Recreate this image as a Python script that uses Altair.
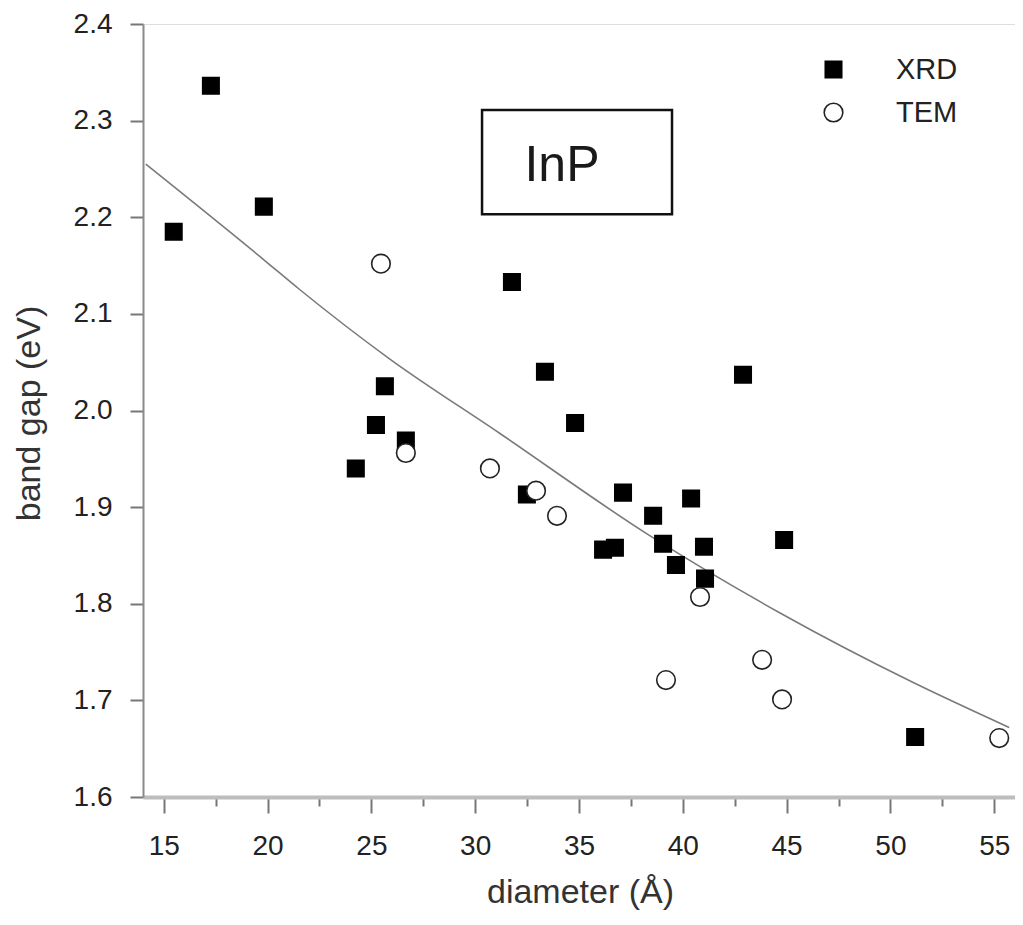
import altair as alt
import pandas as pd

# ---- data ----
series_names = ["XRD", "TEM"]

xrd_diameter = [17.27, 15.48, 19.82, 31.77, 33.36, 25.65, 25.22, 26.66, 24.25, 34.81,
                42.90, 37.12, 32.49, 38.57, 40.40, 36.16, 36.73, 39.05, 39.67, 41.02,
                41.07, 44.88, 51.19]
xrd_gap = [2.336, 2.185, 2.211, 2.133, 2.040, 2.025, 1.985, 1.969, 1.940, 1.987,
           2.037, 1.915, 1.913, 1.891, 1.909, 1.856, 1.858, 1.862, 1.840, 1.859,
           1.826, 1.866, 1.662]

tem_diameter = [25.46, 26.66, 30.71, 32.93, 33.94, 40.83, 39.19, 43.82, 44.78, 55.24]
tem_gap = [2.152, 1.956, 1.940, 1.917, 1.891, 1.807, 1.721, 1.742, 1.701, 1.661]

fit_diameter = [14.13, 19.82, 21.5, 25.84, 31.14, 38.37, 44.64, 51.05, 55.72]
fit_gap = [2.255, 2.156, 2.126, 2.054, 1.977, 1.871, 1.791, 1.719, 1.672]

x_ticks = [15, 20, 25, 30, 35, 40, 45, 50, 55]
x_minor_ticks = [17.5, 22.5, 27.5, 32.5, 37.5, 42.5, 47.5, 52.5]
y_ticks = [1.6, 1.7, 1.8, 1.9, 2.0, 2.1, 2.2, 2.3, 2.4]

label_text = ["InP"]
label_box_x = [30.33, 39.48]
label_box_y = [2.203, 2.311]
label_pos_x = [34.18]
label_pos_y = [2.253]

# ---- tables ----
points = pd.DataFrame({
    "diameter": xrd_diameter + tem_diameter,
    "gap": xrd_gap + tem_gap,
    "method": ["XRD"] * len(xrd_diameter) + ["TEM"] * len(tem_diameter),
})
fit = pd.DataFrame({"diameter": fit_diameter, "gap": fit_gap})
box = pd.DataFrame({"x1": [label_box_x[0]], "x2": [label_box_x[1]],
                    "y1": [label_box_y[0]], "y2": [label_box_y[1]]})
txt = pd.DataFrame({"x": label_pos_x, "y": label_pos_y, "t": label_text})

FONT = "Liberation Sans"
xscale = alt.Scale(domain=[14, 56], nice=False, zero=False)
yscale = alt.Scale(domain=[1.6, 2.4], nice=False, zero=False)

x_axis = alt.Axis(orient="bottom", values=x_ticks, title="diameter (Å)", grid=False,
                  tickSize=16, tickWidth=2, tickColor="#777777",
                  domainColor="#bdbdbd", domainWidth=4,
                  labelFontSize=28, labelFont=FONT, labelColor="#222222",
                  labelPadding=19, labelFlush=False, labelOverlap=False,
                  titleFontSize=34, titleFont=FONT, titleColor="#333333",
                  titleFontWeight="normal", titleX=437, titleY=105,
                  titleBaseline="alphabetic", titleAlign="center")
y_axis = alt.Axis(orient="left", values=y_ticks, format=".1f", title="band gap (eV)", grid=False,
                  tickSize=13, tickWidth=2, tickColor="#777777",
                  domainColor="#8a8a8a", domainWidth=2,
                  labelFontSize=28, labelFont=FONT, labelColor="#222222",
                  labelPadding=18, labelFlush=False, labelOverlap=False,
                  titleFontSize=34, titleFont=FONT, titleColor="#333333",
                  titleFontWeight="normal", titleX=-114, titleY=389,
                  titleAngle=270, titleAlign="center", titleBaseline="middle")
x_minor_axis = alt.Axis(orient="bottom", values=x_minor_ticks, labels=False, title=None, grid=False,
                        tickSize=9, tickWidth=2, tickColor="#777777", domain=False)

leg = alt.Legend(title=None, orient="none", legendX=676, legendY=31,
                 labelFontSize=29, labelFont=FONT, labelColor="#222222",
                 labelOffset=48, rowPadding=13, symbolStrokeWidth=1.6, padding=0)

line = alt.Chart(fit).mark_line(color="#7a7a7a", strokeWidth=1.6, interpolate="monotone").encode(
    x=alt.X("diameter:Q", scale=xscale, axis=x_minor_axis),
    y=alt.Y("gap:Q", scale=yscale, axis=None),
)

pts = alt.Chart(points).mark_point(filled=True, opacity=1, strokeWidth=1.6).encode(
    x=alt.X("diameter:Q", scale=xscale, axis=x_axis),
    y=alt.Y("gap:Q", scale=yscale, axis=y_axis),
    shape=alt.Shape("method:N", scale=alt.Scale(domain=series_names, range=["square", "circle"]), legend=leg),
    fill=alt.Fill("method:N", scale=alt.Scale(domain=series_names, range=["#000000", "#ffffff"]), legend=leg),
    stroke=alt.Stroke("method:N", scale=alt.Scale(domain=series_names, range=["#000000", "#222222"]), legend=leg),
    size=alt.Size("method:N", scale=alt.Scale(domain=series_names, range=[270, 346]), legend=leg),
)

rect = alt.Chart(box).mark_rect(fillOpacity=0, stroke="#111111", strokeWidth=2.5).encode(
    x=alt.X("x1:Q", scale=xscale, axis=None), x2="x2:Q",
    y=alt.Y("y1:Q", scale=yscale, axis=None), y2="y2:Q",
)

label = alt.Chart(txt).mark_text(fontSize=50, font=FONT, color="#1a1a1a",
                                 align="center", baseline="middle").encode(
    x=alt.X("x:Q", scale=xscale, axis=None),
    y=alt.Y("y:Q", scale=yscale, axis=None),
    text="t:N",
)

chart = alt.layer(line, pts, rect, label).resolve_axis(x="independent", y="independent").properties(
    width=872, height=773,
    autosize=alt.AutoSizeParams(type="none"),
    padding={"left": 135, "top": 16, "right": 0, "bottom": 116},
).configure_view(stroke="#9a9a9a", strokeWidth=2).configure(background="white")

chart.save("out.html", embed_options={"renderer": "svg", "actions": False})
